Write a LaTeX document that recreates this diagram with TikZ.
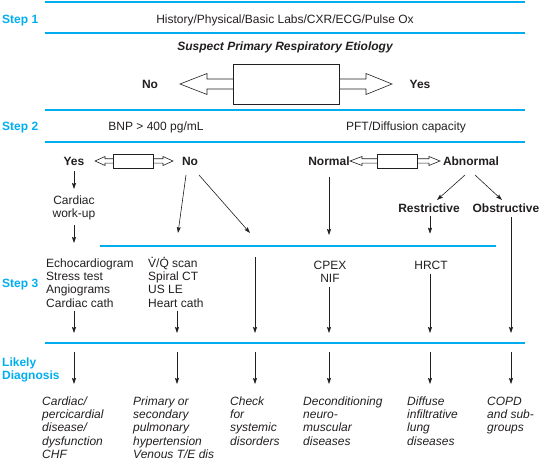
\documentclass[tikz,border=0pt]{standalone}
\usepackage{fontspec}
\setmainfont{Liberation Sans}
\usetikzlibrary{arrows.meta}
\definecolor{stepblue}{HTML}{00AEEF}
\definecolor{ink}{HTML}{231F20}
\newcommand{\dotover}[1]{\leavevmode\setbox0\hbox{#1}\hbox to \wd0{\hss\smash{\raisebox{\dimexpr\ht0+0.4pt\relax}{.}}\hss}\kern-\wd0\box0\relax}
\newcommand{\basefont}{\fontsize{12}{13.3}\selectfont}
\begin{document}
\begin{tikzpicture}[x=1pt,y=-1pt,
  txt/.style={font=\basefont, inner sep=0pt, text=ink},
  lbl/.style={font=\basefont\bfseries, inner sep=0pt, text=ink},
  diag/.style={font=\basefont\itshape, inner sep=0pt, text=ink, align=left, anchor=north west},
  steplbl/.style={font=\basefont\bfseries, inner sep=0pt, text=stepblue},
  rule/.style={draw=stepblue, line width=1.3pt},
  conn/.style={draw=ink, line width=0.6pt, -{Stealth[length=6pt,width=4pt,inset=1pt]}},
  dbl/.style={draw=ink, line width=0.6pt}
]
\useasboundingbox (0,0) rectangle (542,460);

% blue rules
\draw[rule] (45,2) -- (525,2);
\draw[rule] (45,33) -- (525,33);
\draw[rule] (45,110) -- (525,110);
\draw[rule] (45,142) -- (525,142);
\draw[rule] (100,246) -- (496,246);
\draw[rule] (45,343) -- (525,343);

% step 1
\node[steplbl, anchor=base west] (s1) at (2,23.3) {Step 1};
\node[txt, anchor=base] (hist) at (285,23.3) {History/Physical/Basic Labs/CXR/ECG/Pulse Ox};
\node[lbl, font=\basefont\bfseries\itshape, anchor=base] (susp) at (285,50.3) {Suspect Primary Respiratory Etiology};
\node[lbl, anchor=base] (no1) at (150,88.3) {No};
\node[lbl, anchor=base] (yes1) at (420,88.3) {Yes};
% big double arrow
\draw[dbl] (233,64) rectangle (339,104);
\draw[dbl] (233,79) -- (207,79) -- (207,73.5) -- (180,84) -- (207,94.5) -- (207,89) -- (233,89);
\draw[dbl] (339,79) -- (366,79) -- (366,73.5) -- (392,84) -- (366,94.5) -- (366,89) -- (339,89);

% step 2
\node[steplbl, anchor=base west] (s2) at (2,130.3) {Step 2};
\node[txt, anchor=base] (bnp) at (156,130.3) {BNP > 400 pg/mL};
\node[txt, anchor=base] (pft) at (406,130.3) {PFT/Diffusion capacity};

\node[lbl, anchor=base] (yes2) at (74,165.3) {Yes};
\node[lbl, anchor=base] (no2) at (190,165.3) {No};
\node[lbl, anchor=base] (normal) at (329,165.3) {Normal};
\node[lbl, anchor=base] (abnormal) at (471,165.3) {Abnormal};
% small double arrows
\draw[dbl] (113,154) rectangle (153,168);
\draw[dbl] (113,158.8) -- (105,158.8) -- (105,156.5) -- (95,161) -- (105,165.5) -- (105,163.2) -- (113,163.2);
\draw[dbl] (153,158.8) -- (163,158.8) -- (163,156.5) -- (173,161) -- (163,165.5) -- (163,163.2) -- (153,163.2);
\draw[dbl] (377,154) rectangle (417,168);
\draw[dbl] (377,158.8) -- (362,158.8) -- (362,156.5) -- (350,161) -- (362,165.5) -- (362,163.2) -- (377,163.2);
\draw[dbl] (417,158.8) -- (429,158.8) -- (429,156.5) -- (440,161) -- (429,165.5) -- (429,163.2) -- (417,163.2);

\node[txt, align=center, anchor=north] (cw) at (74,195.5) {Cardiac\\work-up};
\node[lbl, anchor=base] (restr) at (429,212.3) {Restrictive};
\node[lbl, anchor=base] (obstr) at (506,212.3) {Obstructive};

% step 3
\node[steplbl, anchor=base west] (s3) at (2,287.3) {Step 3};
\node[txt, align=left, anchor=north west] (echo) at (46,258.5) {Echocardiogram\\Stress test\\Angiograms\\Cardiac cath};
\node[txt, align=left, anchor=north west] (vq) at (148,258.5) {\dotover{V}/\dotover{Q} scan\\Spiral CT\\US LE\\Heart cath};
\node[txt, align=center, anchor=north] (cpex) at (330,260.5) {CPEX\\NIF};
\node[txt, anchor=base] (hrct) at (431,269.3) {HRCT};

% likely diagnosis
\node[steplbl, align=left, anchor=north west] (likely) at (2,357.5) {Likely\\Diagnosis};
\node[diag] (d1) at (42,396.5) {Cardiac/\\percicardial\\disease/\\dysfunction\\CHF};
\node[diag] (d2) at (133,396.5) {Primary or\\secondary\\pulmonary\\hypertension\\Venous T/E dis};
\node[diag] (d3) at (230,396.5) {Check\\for\\systemic\\disorders};
\node[diag] (d4) at (303,396.5) {Deconditioning\\neuro-\\muscular\\diseases};
\node[diag] (d5) at (407,396.5) {Diffuse\\infiltrative\\lung\\diseases};
\node[diag] (d6) at (487,396.5) {COPD\\and sub-\\groups};

% connector end points
\coordinate (noA) at (186,175);
\coordinate (noB) at (199,175);
\coordinate (vqIn) at (178,233);
\coordinate (chkIn) at (250,233);
\coordinate (abA) at (465,175);
\coordinate (abB) at (475,175);
\coordinate (rsIn) at (437,200);
\coordinate (obIn) at (502,200);
\coordinate (chkTop) at (255,257);
\coordinate (obTop) at (511,217);
\foreach \i/\x in {1/74,2/177,3/255,4/329,5/430,6/511}{
  \coordinate (up\i) at (\x,333);
  \coordinate (dn\i) at (\x,352);
  \coordinate (dd\i) at (\x,384);
}

% step 2 connectors
\draw[conn, shorten <=5.7pt, shorten >=6.5pt] (yes2.south) -- (yes2.south |- cw.north);
\draw[conn, shorten <=5pt, shorten >=15.5pt] (cw.south) -- (cw.south |- echo.north);
\draw[conn] (noA) -- (vqIn);
\draw[conn] (noB) -- (chkIn);
\draw[conn, shorten <=11.7pt, shorten >=25.5pt] (normal.south) -- (normal.south |- cpex.north);
\draw[conn] (abA) -- (rsIn);
\draw[conn] (abB) -- (obIn);
\draw[conn, shorten <=3pt, shorten >=27pt] (restr.south -| up5) -- (up5 |- hrct.north);
\draw[conn] (obTop) -- (up6);

% step 3 connectors
\draw[conn] (echo.south -| up1) ++(0,3) -- (up1);
\draw[conn] (vq.south -| up2) ++(0,3) -- (up2);
\draw[conn] (chkTop) -- (up3);
\draw[conn, shorten <=4pt] (cpex.south -| up4) -- (up4);
\draw[conn, shorten <=4pt] (hrct.south -| up5) -- (up5);

% diagnosis connectors
\foreach \i in {1,...,6}{
  \draw[conn] (dn\i) -- (dd\i);
}
\end{tikzpicture}
\end{document}
